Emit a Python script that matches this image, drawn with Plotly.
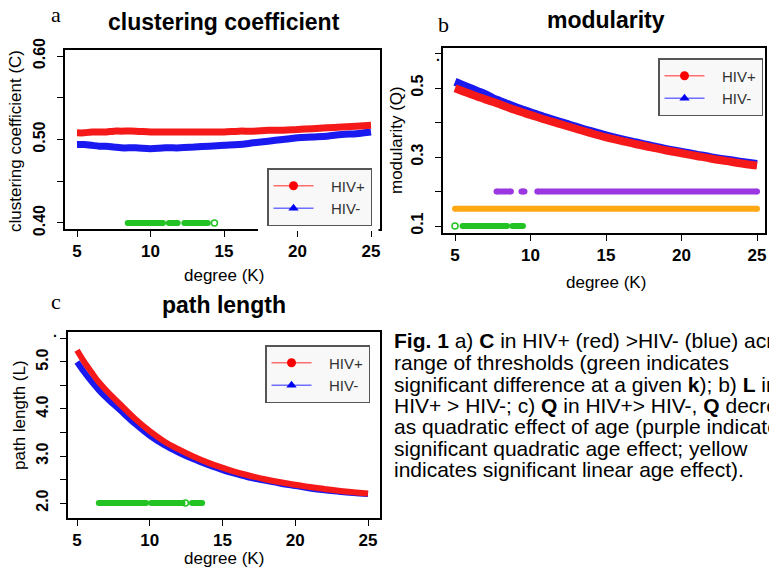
import plotly.graph_objects as go

W, H = 769, 567
FONT = "Liberation Sans, Arial, Helvetica, sans-serif"
SERIF = "Liberation Serif, Times New Roman, serif"

# ---------------- data ----------------
k = [5, 5.5, 6, 6.5, 7, 7.5, 8, 9, 10, 11, 12, 13, 14, 15, 16, 17, 18, 19, 20, 21, 22, 23, 24, 25]

cc_hiv_pos = [0.508, 0.508, 0.509, 0.509, 0.509, 0.510, 0.510, 0.510, 0.509, 0.509, 0.509, 0.509,
              0.509, 0.509, 0.510, 0.510, 0.511, 0.511, 0.512, 0.513, 0.514, 0.515, 0.516, 0.517]
cc_hiv_neg = [0.494, 0.494, 0.493, 0.492, 0.492, 0.491, 0.490, 0.490, 0.489, 0.490, 0.490, 0.491,
              0.492, 0.493, 0.494, 0.496, 0.498, 0.500, 0.502, 0.503, 0.504, 0.506, 0.507, 0.509]

mod_hiv_pos = [0.499, 0.491, 0.483, 0.475, 0.467, 0.460, 0.452, 0.436, 0.422, 0.408, 0.395, 0.382,
               0.369, 0.357, 0.347, 0.337, 0.328, 0.319, 0.311, 0.303, 0.295, 0.288, 0.281, 0.275]
mod_hiv_neg = [0.518, 0.509, 0.500, 0.491, 0.482, 0.471, 0.462, 0.445, 0.430, 0.415, 0.401, 0.388,
               0.375, 0.363, 0.352, 0.342, 0.332, 0.323, 0.315, 0.307, 0.299, 0.292, 0.286, 0.280]

pl_hiv_pos = [5.25, 5.00, 4.78, 4.57, 4.40, 4.24, 4.09, 3.79, 3.53, 3.31, 3.14, 2.99,
              2.86, 2.75, 2.65, 2.57, 2.50, 2.44, 2.39, 2.34, 2.30, 2.26, 2.23, 2.20]
pl_hiv_neg = [5.00, 4.78, 4.58, 4.40, 4.24, 4.10, 3.96, 3.68, 3.43, 3.23, 3.07, 2.93,
              2.81, 2.70, 2.61, 2.53, 2.47, 2.41, 2.36, 2.31, 2.27, 2.24, 2.21, 2.19]

# significance indicators: runs of k (start, end) and isolated k values
a_green_level = 0.40
a_green_runs = [(8.45, 10.85), (11.25, 11.85), (12.3, 13.9)]
a_green_single = [14.35]

b_green_level = 0.10
b_green_runs = [(5.5, 8.45), (8.8, 9.5)]
b_green_single = [5.0]
b_purple_level = 0.20
b_purple_runs = [(7.75, 8.7), (9.4, 9.6), (10.45, 25.0)]
b_orange_level = 0.15
b_orange_runs = [(5.0, 25.0)]

c_green_level = 2.0
c_green_runs = [(6.5, 9.75), (10.1, 12.25), (12.9, 13.6)]
c_green_single = [12.45]

a_yticks = [0.40, 0.45, 0.50, 0.55, 0.60]
a_ytext = ["0.40", "", "0.50", "", "0.60"]
b_yticks = [0.1, 0.2, 0.3, 0.4, 0.5, 0.6]
b_ytext = ["0.1", "", "0.3", "", "0.5", ""]
c_yticks = [2.0, 2.5, 3.0, 3.5, 4.0, 4.5, 5.0, 5.5]
c_ytext = ["2.0", "", "3.0", "", "4.0", "", "5.0", ""]
xticks = [5, 10, 15, 20, 25]

RED = "rgb(245,25,25)"
BLUE = "rgb(25,25,240)"
GREEN = "rgb(35,195,35)"
PURPLE = "rgb(155,55,225)"
ORANGE = "rgb(255,168,20)"


def px(x):
    return x / W


def py(y):
    return 1 - y / H


def runs_xy(runs, level):
    xs, ys = [], []
    for s, e in runs:
        xs += [s, e, None]
        ys += [level, level, None]
    return xs, ys


fig = go.Figure()


def add_sig(runs, level, color, xa, ya, singles=None):
    xs, ys = runs_xy(runs, level)
    fig.add_trace(go.Scatter(x=xs, y=ys, mode="lines+markers", xaxis=xa, yaxis=ya,
                             line=dict(color=color, width=6),
                             marker=dict(color=color, size=6),
                             showlegend=False, hoverinfo="skip"))
    if singles:
        fig.add_trace(go.Scatter(x=singles, y=[level] * len(singles), mode="markers",
                                 xaxis=xa, yaxis=ya,
                                 marker=dict(symbol="circle-open", color=color, size=6,
                                             line=dict(width=1.5, color=color)),
                                 showlegend=False, hoverinfo="skip"))


def add_curves(neg, pos, xa, ya, width):
    fig.add_trace(go.Scatter(x=k, y=neg, mode="lines", xaxis=xa, yaxis=ya,
                             line=dict(color=BLUE, width=width, shape="spline"),
                             showlegend=False))
    fig.add_trace(go.Scatter(x=k, y=pos, mode="lines", xaxis=xa, yaxis=ya,
                             line=dict(color=RED, width=width, shape="spline"),
                             showlegend=False))


def add_legend(xa, ya, leg):
    fig.add_trace(go.Scatter(x=[None], y=[None], mode="lines+markers", xaxis=xa, yaxis=ya,
                             name="   HIV+", legend=leg,
                             line=dict(color="rgb(255,110,110)", width=1.5),
                             marker=dict(color="rgb(250,0,0)", size=9, symbol="circle")))
    fig.add_trace(go.Scatter(x=[None], y=[None], mode="lines+markers", xaxis=xa, yaxis=ya,
                             name="   HIV-", legend=leg,
                             line=dict(color="rgb(110,110,255)", width=1.5),
                             marker=dict(color="rgb(0,0,240)", size=9, symbol="triangle-up")))


# panel a
add_curves(cc_hiv_neg, cc_hiv_pos, "x", "y", 7)
add_sig(a_green_runs, a_green_level, GREEN, "x", "y", a_green_single)
add_legend("x", "y", "legend")

# panel b
add_sig(b_orange_runs, b_orange_level, ORANGE, "x2", "y2")
add_sig(b_purple_runs, b_purple_level, PURPLE, "x2", "y2")
add_sig(b_green_runs, b_green_level, GREEN, "x2", "y2", b_green_single)
add_curves(mod_hiv_neg, mod_hiv_pos, "x2", "y2", 8)
add_legend("x2", "y2", "legend2")

# panel c
add_curves(pl_hiv_neg, pl_hiv_pos, "x3", "y3", 6)
add_sig(c_green_runs, c_green_level, GREEN, "x3", "y3", c_green_single)
add_legend("x3", "y3", "legend3")


def xaxis(left, right, rng, anchor):
    return dict(domain=[px(left), px(right)], range=rng, anchor=anchor,
                tickvals=xticks, ticktext=[str(v) for v in xticks],
                tickfont=dict(family=FONT, size=17, color="black", weight="bold"),
                showline=True, linecolor="black", linewidth=1.5, mirror=True,
                ticks="outside", ticklen=6, tickwidth=1.3, tickcolor="black",
                showgrid=False, zeroline=False, fixedrange=True, automargin=False)


def yaxis(top, bottom, rng, anchor, tv, tt):
    return dict(domain=[py(bottom), py(top)], range=rng, anchor=anchor,
                tickvals=tv, ticktext=tt, tickangle=-90,
                tickfont=dict(family=FONT, size=16, color="black", weight="bold"),
                ticklabelstandoff=6,
                showline=True, linecolor="black", linewidth=1.5, mirror=True,
                ticks="outside", ticklen=6, tickwidth=1.3, tickcolor="black",
                showgrid=False, zeroline=False, fixedrange=True, automargin=False)


annotations = []


def ann(text, x, y, size, rot=0, bold=False, family=FONT, xanchor="center", color="black"):
    annotations.append(dict(text=("<b>%s</b>" % text) if bold else text,
                            x=px(x), y=py(y), xref="paper", yref="paper",
                            xanchor=xanchor, yanchor="middle", showarrow=False,
                            textangle=rot, font=dict(family=family, size=size, color=color)))


# titles
ann("clustering coefficient", 224, 22, 23, bold=True)
ann("modularity", 606, 20, 23, bold=True)
ann("path length", 224, 305, 23, bold=True)
# panel letters
ann("a", 56, 14, 22, family=SERIF)
ann("b", 444, 24, 22, family=SERIF)
ann("c", 56, 301, 22, family=SERIF)
# small stray marks near the top tick of panels b and c
ann(".", 438, 56, 14, bold=True)
ann(".", 55, 332, 14, bold=True)
# axis titles
ann("degree (K)", 224, 275, 17)
ann("degree (K)", 606, 282, 17)
ann("degree (K)", 224, 558, 17)
ann("clustering coefficient (C)", 16, 141, 17, rot=-90)
ann("modularity (Q)", 396, 140, 17, rot=-90)
ann("path length (L)", 19, 415, 17, rot=-90)

# caption
caption_lines = [
    "<b>Fig. 1</b> a) <b>C</b> in HIV+ (red) >HIV- (blue) across a",
    "range of thresholds (green indicates",
    "significant difference at a given <b>k</b>); b) <b>L</b> in",
    "HIV+ > HIV-; c) <b>Q</b> in HIV+> HIV-, <b>Q</b> decreases",
    "as quadratic effect of age (purple indicates",
    "significant quadratic age effect; yellow",
    "indicates significant linear age effect).",
]
caption_y = [340, 362, 384, 405, 426, 448, 469]
for line, yy in zip(caption_lines, caption_y):
    ann(line, 392, yy, 21, xanchor="left")

legend_style = dict(font=dict(family=FONT, size=15, color="#333333"),
                    bgcolor="#f8f8f8", bordercolor="#555555", borderwidth=1.5,
                    xanchor="left", yanchor="top", itemwidth=40,
                    tracegroupgap=0, itemclick=False, itemdoubleclick=False)

fig.update_layout(
    width=W, height=H, autosize=False,
    margin=dict(l=0, r=0, t=0, b=0, pad=0, autoexpand=False),
    paper_bgcolor="white", plot_bgcolor="white",
    font=dict(family=FONT, color="black"),
    xaxis=xaxis(65, 380, [4.184, 25.612], "y"),
    yaxis=yaxis(50, 229, [0.3928, 0.6072], "x", a_yticks, a_ytext),
    xaxis2=xaxis(443, 765, [4.205, 25.53], "y2"),
    yaxis2=yaxis(48, 233, [0.0797, 0.616], "x2", b_yticks, b_ytext),
    xaxis3=xaxis(68, 380, [4.381, 25.825], "y3"),
    yaxis3=yaxis(332, 518, [1.681, 5.638], "x3", c_yticks, c_ytext),
    legend=dict(x=px(267), y=py(168), **legend_style),
    legend2=dict(x=px(658), y=py(58), **legend_style),
    legend3=dict(x=px(265), y=py(345), **legend_style),
    annotations=annotations,
    shapes=[dict(type="rect", xref="paper", yref="paper", layer="above",
                 x0=px(258), x1=px(378.5), y0=py(231), y1=py(165),
                 fillcolor="white", line=dict(width=0))],
    showlegend=True,
)

fig.write_html("out.html",
               config={"displayModeBar": False},
               post_script="document.body.style.margin='0';document.body.style.padding='0';"
                           "document.body.style.overflow='hidden';")
